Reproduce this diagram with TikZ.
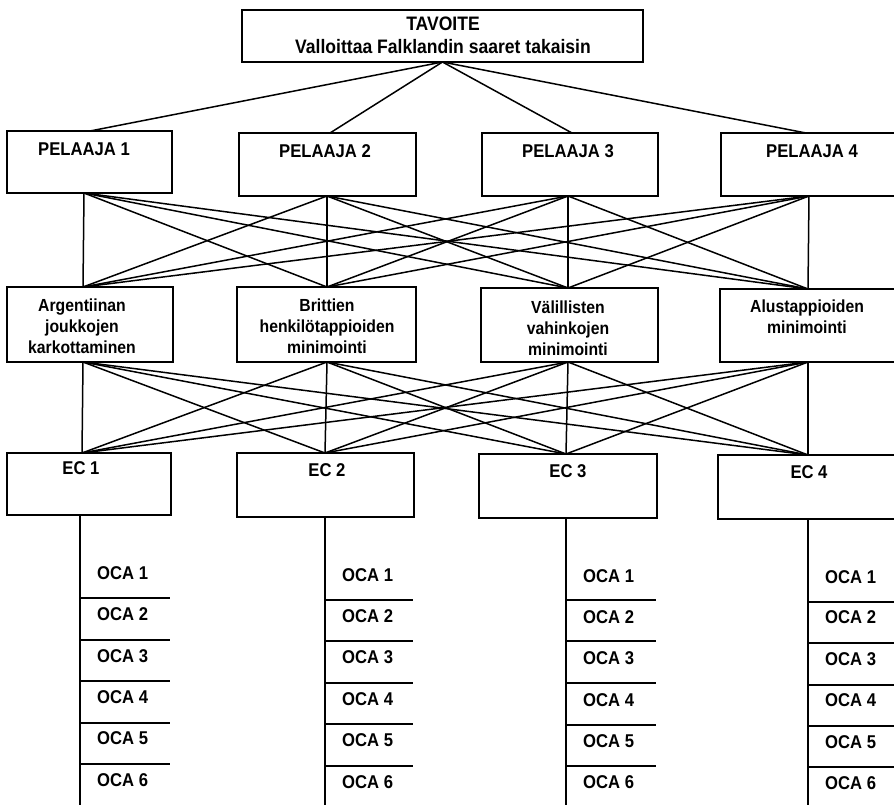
\documentclass[tikz,border=0pt]{standalone}
\usepackage{fontspec}
\setmainfont{Liberation Sans}[FakeStretch=0.9]
\begin{document}
\begin{tikzpicture}[x=1pt,y=-1pt,
  box/.style={draw, line width=2pt, inner sep=0pt, outer sep=0pt},
  link/.style={line width=1.5pt},
  rung/.style={line width=1.9pt},
  head/.style={font=\fontsize{19.5}{23}\selectfont\bfseries, inner sep=0pt},
  lbl/.style={font=\fontsize{18.5}{22}\selectfont\bfseries, inner sep=0pt},
  crit/.style={font=\fontsize{17.5}{21}\selectfont\bfseries, align=center, inner sep=0pt},
  oca/.style={font=\fontsize{18.5}{22}\selectfont\bfseries, inner sep=0pt, anchor=west},
]
\useasboundingbox (0,0) rectangle (894,804);

% goal
\node[box, minimum width=401, minimum height=52] (goal) at (442.5,36) {};
\node[head] (goalA) at (443,24) {TAVOITE};
\node[head] (goalB) at (443,47) {Valloittaa Falklandin saaret takaisin};

% players
\node[box, minimum width=165, minimum height=62] (p1) at (89.5,162) {};
\node[box, minimum width=177, minimum height=63] (p2) at (327.5,164.5) {};
\node[box, minimum width=176, minimum height=63] (p3) at (570,164.5) {};
\node[box, minimum width=176, minimum height=63] (p4) at (809,164.5) {};
\node[lbl] (p1l) at (84,149) {PELAAJA 1};
\node[lbl] (p2l) at (325,151) {PELAAJA 2};
\node[lbl] (p3l) at (568,151) {PELAAJA 3};
\node[lbl] (p4l) at (812,151) {PELAAJA 4};

% criteria
\node[box, minimum width=166, minimum height=75] (m1) at (90,324.5) {};
\node[box, minimum width=179, minimum height=75] (m2) at (326.5,324.5) {};
\node[box, minimum width=177, minimum height=74] (m3) at (569.5,325) {};
\node[box, minimum width=177, minimum height=73] (m4) at (808.5,325.5) {};
\node[crit] (m1l) at (82,326) {Argentiinan\\joukkojen\\karkottaminen};
\node[crit] (m2l) at (327,326) {Brittien\\henkilötappioiden\\minimointi};
\node[crit] (m3l) at (568,328) {Välillisten\\vahinkojen\\minimointi};
\node[crit] (m4l) at (807,317) {Alustappioiden\\minimointi};

% evaluation criteria
\node[box, minimum width=164, minimum height=62] (e1) at (89,484) {};
\node[box, minimum width=177, minimum height=64] (e2) at (325.5,485) {};
\node[box, minimum width=178, minimum height=64] (e3) at (568,486) {};
\node[box, minimum width=178, minimum height=64] (e4) at (807,487) {};
\node[lbl] (e1l) at (81,468) {EC 1};
\node[lbl] (e2l) at (327,470) {EC 2};
\node[lbl] (e3l) at (568,471) {EC 3};
\node[lbl] (e4l) at (809,472) {EC 4};

% connection points on the boxes
\coordinate (p1in) at ([xshift=0.5]p1.north);
\coordinate (p2in) at ([xshift=2.5]p2.north);
\coordinate (p3in) at ([xshift=2]p3.north);
\coordinate (p4in) at ([xshift=-3]p4.north);
\coordinate (p1out) at ([xshift=-5.5]p1.south);
\coordinate (p2out) at ([xshift=-0.5]p2.south);
\coordinate (p3out) at ([xshift=-2]p3.south);
\coordinate (p4out) at (p4.south);
\coordinate (m1in) at ([xshift=-7]m1.north);
\coordinate (m2in) at ([xshift=0.5]m2.north);
\coordinate (m3in) at ([xshift=-1.5]m3.north);
\coordinate (m4in) at ([xshift=-0.5]m4.north);
\coordinate (m1out) at ([xshift=-7]m1.south);
\coordinate (m2out) at ([xshift=0.5]m2.south);
\coordinate (m3out) at ([xshift=-1.5]m3.south);
\coordinate (m4out) at ([xshift=-0.5]m4.south);
\coordinate (e1in) at ([xshift=-7]e1.north);
\coordinate (e2in) at ([xshift=-0.5]e2.north);
\coordinate (e3in) at ([xshift=-2]e3.north);
\coordinate (e4in) at ([xshift=1]e4.north);
\coordinate (e1out) at ([xshift=-9]e1.south);
\coordinate (e2out) at ([xshift=-0.5]e2.south);
\coordinate (e3out) at ([xshift=-2]e3.south);
\coordinate (e4out) at ([xshift=1]e4.south);
\coordinate (floor) at (0,808);

% goal to players
\foreach \p in {p1in,p2in,p3in,p4in}
  \draw[link] (goal.south) -- (\p);

% players to criteria, criteria to evaluation criteria
\foreach \a in {p1out,p2out,p3out,p4out}
  \foreach \b in {m1in,m2in,m3in,m4in}
    \draw[link] (\a) -- (\b);
\foreach \a in {m1out,m2out,m3out,m4out}
  \foreach \b in {e1in,e2in,e3in,e4in}
    \draw[link] (\a) -- (\b);

% option ladders
\foreach \e in {e1out,e2out,e3out,e4out}
  \draw[rung] (\e) -- (\e |- floor);

\foreach \y in {598,640,681,723,764}
  \draw[rung] (e1out |- 0,\y) -- ++(90,0);
\foreach \y in {600,641,683,724,766}
  \draw[rung] (e2out |- 0,\y) -- ++(88,0);
\foreach \y in {600,641,683,725,766}
  \draw[rung] (e3out |- 0,\y) -- ++(90,0);
\foreach \y in {602,643,685,726,767}
  \draw[rung] (e4out |- 0,\y) -- ++(92,0);

\foreach \k/\y in {1/573,2/614,3/656,4/697,5/738,6/780}
  \node[oca] (a\k) at (97,\y) {OCA \k};
\foreach \k/\y in {1/575,2/616,3/657,4/699,5/740,6/782}
  \node[oca] (b\k) at (342,\y) {OCA \k};
\foreach \k/\y in {1/576,2/617,3/658,4/700,5/741,6/782}
  \node[oca] (c\k) at (583,\y) {OCA \k};
\foreach \k/\y in {1/577,2/617,3/659,4/700,5/742,6/783}
  \node[oca] (d\k) at (825,\y) {OCA \k};
\end{tikzpicture}
\end{document}
